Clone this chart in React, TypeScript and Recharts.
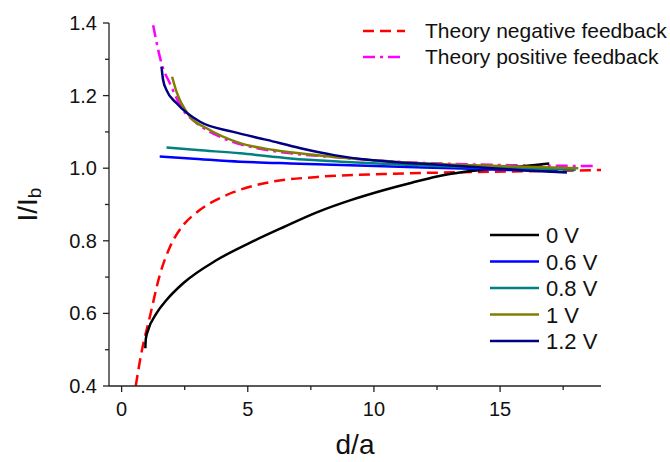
import { Legend, Line, LineChart, XAxis, YAxis } from 'recharts';

// d/a values and I/Ib values
const negX = [0.56, 0.78, 1.12, 1.51, 1.91, 2.44, 2.9, 3.37, 4.0, 4.43, 5.76, 7.76, 10.4, 13.5, 16.5, 19.0];
const negY = [0.4, 0.49, 0.591, 0.705, 0.782, 0.843, 0.874, 0.898, 0.921, 0.934, 0.96, 0.976, 0.984, 0.989, 0.992, 0.995];

const posX = [1.25, 1.45, 1.58, 1.91, 2.44, 2.98, 4.04, 5.37, 6.69, 8.16, 10.9, 14.9, 18.8];
const posY = [1.394, 1.326, 1.289, 1.234, 1.16, 1.124, 1.082, 1.055, 1.041, 1.032, 1.018, 1.009, 1.006];

const v0X = [0.94, 0.96, 1.05, 1.38, 1.78, 2.44, 3.77, 5.1, 6.43, 7.76, 9.08, 10.41, 11.5, 12.5, 13.6, 14.9, 16.0, 16.95];
const v0Y = [0.504, 0.53, 0.554, 0.6, 0.637, 0.683, 0.747, 0.795, 0.838, 0.879, 0.912, 0.94, 0.96, 0.977, 0.99, 1.0, 1.006, 1.013];

const v06X = [1.51, 2.71, 4.7, 6.7, 8.69, 11, 13.5, 15.5, 17.3];
const v06Y = [1.032, 1.027, 1.018, 1.013, 1.009, 1.004, 0.999, 0.995, 0.992];

const v08X = [1.78, 3.0, 4.7, 6.69, 8.69, 11, 13.5, 16, 18.0];
const v08Y = [1.057, 1.05, 1.041, 1.027, 1.018, 1.01, 1.003, 0.999, 0.996];

const v1X = [2.0, 2.18, 2.71, 3.37, 4.7, 6.03, 7.76, 9.5, 11.5, 14, 16, 18.1];
const v1Y = [1.252, 1.21, 1.142, 1.11, 1.069, 1.05, 1.036, 1.025, 1.015, 1.008, 1.004, 1.0];

const v12X = [1.58, 1.64, 1.78, 2.18, 3.11, 4.43, 5.76, 7.09, 8.42, 9.75, 11, 12.3, 14, 16, 17.65];
const v12Y = [1.28, 1.245, 1.215, 1.179, 1.128, 1.1, 1.078, 1.055, 1.036, 1.023, 1.016, 1.011, 1.003, 0.994, 0.988];

const xTicks = [0, 2.5, 5, 7.5, 10, 12.5, 15, 17.5];
const yTicks = [0.4, 0.5, 0.6, 0.7, 0.8, 0.9, 1.0, 1.1, 1.2, 1.3, 1.4];

const zip = (xs: number[], ys: number[]) => xs.map((x, i) => ({ x, y: ys[i] }));

const theory = [
  { name: 'Theory negative feedback', data: zip(negX, negY), color: '#ff0000', dash: '11 6' },
  { name: 'Theory positive feedback', data: zip(posX, posY), color: '#ff00ff', dash: '12 5 3 5' },
];

const measured = [
  { name: '0 V', data: zip(v0X, v0Y), color: '#000000' },
  { name: '0.6 V', data: zip(v06X, v06Y), color: '#0000ff' },
  { name: '0.8 V', data: zip(v08X, v08Y), color: '#008080' },
  { name: '1 V', data: zip(v1X, v1Y), color: '#808000' },
  { name: '1.2 V', data: zip(v12X, v12Y), color: '#000080' },
];

const AXIS = '#222';
const FONT = 'Arial, "Liberation Sans", sans-serif';

const XTick = (props: any) => {
  const { x, y, payload } = props;
  const major = payload.value % 5 === 0;
  return (
    <g>
      <line x1={x} x2={x} y1={y} y2={y + (major ? 6 : 4)} stroke={AXIS} strokeWidth={1.3} />
      {major && (
        <text x={x} y={y + 30} textAnchor="middle" fontSize={20} fontFamily={FONT} fill="#111">
          {payload.value}
        </text>
      )}
    </g>
  );
};

const YTick = (props: any) => {
  const { x, y, payload } = props;
  const major = Math.round(payload.value * 10) % 2 === 0;
  return (
    <g>
      <line x1={x - (major ? 6 : 4)} x2={x} y1={y} y2={y} stroke={AXIS} strokeWidth={1.3} />
      {major && (
        <text x={x - 12} y={y + 7} textAnchor="end" fontSize={20} fontFamily={FONT} fill="#111">
          {payload.value.toFixed(1)}
        </text>
      )}
    </g>
  );
};

const LegendBox = () => (
  <svg width={670} height={462} style={{ fontFamily: FONT }}>
    {theory.map((s, i) => (
      <g key={s.name}>
        <line x1={363} x2={405} y1={31 + i * 26} y2={31 + i * 26} stroke={s.color} strokeWidth={2.5} strokeDasharray={s.dash} />
        <text x={425} y={31 + i * 26 + 7} fontSize={21} fill="#111">{s.name}</text>
      </g>
    ))}
    {measured.map((s, i) => (
      <g key={s.name}>
        <line x1={490} x2={539} y1={235 + i * 26.5} y2={235 + i * 26.5} stroke={s.color} strokeWidth={2.5} />
        <text x={546} y={235 + i * 26.5 + 8} fontSize={22} fill="#111">{s.name}</text>
      </g>
    ))}
  </svg>
);

export default function App() {
  return (
    <div style={{ position: 'absolute', left: 0, top: 0 }}>
      <LineChart width={670} height={462} margin={{ top: 23, right: 69, left: 0, bottom: 0 }}>
        <XAxis
          type="number"
          dataKey="x"
          domain={[-0.5, 19]}
          ticks={xTicks}
          interval={0}
          height={76}
          tickSize={0}
          tickMargin={0}
          tickLine={false}
          axisLine={{ stroke: AXIS, strokeWidth: 1.3 }}
          tick={<XTick />}
          label={(props: any) => {
            const vb = props.viewBox;
            return (
              <text x={vb.x + vb.width / 2} y={454} textAnchor="middle" fontSize={28} fontFamily={FONT} fill="#111">
                d/a
              </text>
            );
          }}
          allowDataOverflow
        />
        <YAxis
          type="number"
          domain={[0.4, 1.4]}
          ticks={yTicks}
          interval={0}
          width={109}
          tickSize={0}
          tickMargin={0}
          tickLine={false}
          axisLine={{ stroke: AXIS, strokeWidth: 1.3 }}
          tick={<YTick />}
          allowDataOverflow
          label={(props: any) => {
            const vb = props.viewBox;
            const cx = 27;
            const cy = vb.y + vb.height / 2;
            return (
              <text x={cx} y={cy} transform={`rotate(-90 ${cx} ${cy})`} textAnchor="middle" dominantBaseline="central" fontSize={28} fontFamily={FONT} fill="#111">
                I/I<tspan fontSize={19} dy={7}>b</tspan>
              </text>
            );
          }}
        />
        {theory.map((s) => (
          <Line
            key={s.name}
            data={s.data}
            dataKey="y"
            name={s.name}
            type="monotone"
            stroke={s.color}
            strokeWidth={2.5}
            strokeDasharray={s.dash}
            dot={false}
            isAnimationActive={false}
          />
        ))}
        {measured.map((s) => (
          <Line
            key={s.name}
            data={s.data}
            dataKey="y"
            name={s.name}
            type="monotone"
            stroke={s.color}
            strokeWidth={2.5}
            dot={false}
            isAnimationActive={false}
          />
        ))}
        <Legend
          layout="horizontal"
          verticalAlign="middle"
          align="center"
          wrapperStyle={{ left: 0, top: 0, width: 670, height: 462, pointerEvents: 'none' }}
          content={() => <LegendBox />}
        />
      </LineChart>
    </div>
  );
}
